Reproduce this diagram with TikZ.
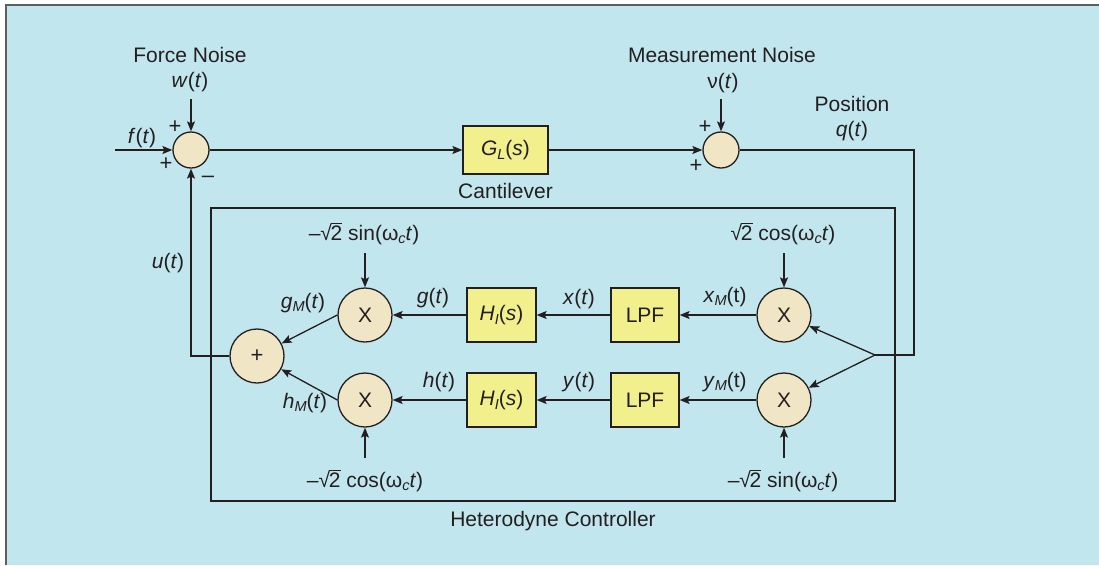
\documentclass[tikz,border=0pt]{standalone}
\usepackage{fontspec}
\setmainfont{Liberation Sans}
\usetikzlibrary{arrows.meta}
\definecolor{bg}{RGB}{194,230,238}
\definecolor{boxy}{RGB}{242,240,140}
\definecolor{circ}{RGB}{240,230,198}
\definecolor{ink}{RGB}{35,31,32}
\definecolor{frame}{RGB}{95,95,95}
\newcommand\vi[1]{\textit{#1}}
\newcommand\subs[1]{\raisebox{-0.35ex}{\fontsize{14.5}{14.5}\selectfont #1}}
\newcommand\rtwo{√\kern-0.06em\rlap{\rule[0.74em]{0.56em}{0.06em}}2}
\tikzset{
  every node/.style={font=\fontsize{21}{25}\selectfont, text=ink},
  lbl/.style={anchor=base, inner sep=0pt},
  sgn/.style={inner sep=0pt, font=\fontsize{22}{22}\selectfont},
  sumc/.style={circle, draw=ink, fill=circ, line width=1.3pt, minimum size=36pt, inner sep=0pt},
  mulc/.style={circle, draw=ink, fill=circ, line width=1.3pt, minimum size=54pt, inner sep=0pt},
  blk/.style={rectangle, draw=ink, fill=boxy, line width=1.3pt, minimum height=54pt, inner sep=0pt},
  wire/.style={draw=ink, line width=1.3pt},
  sig/.style={wire, -{Stealth[length=10pt,width=8pt,inset=2pt]}}
}
\begin{document}
\begin{tikzpicture}[x=1pt,y=-1pt]
\useasboundingbox (0,0) rectangle (1099,565);
\fill[white] (0,0) rectangle (1099,565);
\fill[bg] (6,5) rectangle (1099,565);
\draw[frame, line width=2pt] (6,565) -- (6,5) -- (1099,5);

% controller frame
\node[draw=ink, line width=1.3pt, minimum width=684pt, minimum height=293pt, inner sep=0pt] (het) at (553,354.5) {};
\node[lbl] (hetl) at (553,526) {Heterodyne Controller};

% top loop
\node[sumc] (s1) at (191,150) {};
\node[blk, minimum width=85pt, minimum height=48pt] (GL) at (505.5,150) {\vi{G}\subs{\vi{L}}(\vi{s})};
\node[sumc] (s2) at (721,150) {};
\node[lbl] (cant) at (505.5,198) {Cantilever};

\node[lbl] (fn) at (190,62) {Force Noise};
\node[lbl] (wl) at (190,87) {\vi{w}(\vi{t})};
\node[lbl] (fl) at (142,143) {\vi{f}(\vi{t})};
\node[sgn] (p1) at (175,127) {+};
\node[sgn] (p2) at (166,164) {+};
\node[sgn] (m0) at (208,179) {–};

\node[lbl] (mn) at (722,62) {Measurement Noise};
\node[lbl] (vl) at (723,88) {ν(\vi{t})};
\node[sgn] (p3) at (705,127) {+};
\node[sgn] (p4) at (696,166) {+};
\node[lbl] (pos) at (852,111) {Position};
\node[lbl] (ql) at (852,136) {\vi{q}(\vi{t})};

\coordinate (fin) at (115,150);
\coordinate (win) at (191,99);
\coordinate (vin) at (721,99);
\draw[sig] (fin) -- (s1);
\draw[sig] (win) -- (s1);
\draw[sig] (s1) -- (GL);
\draw[sig] (GL) -- (s2);
\draw[sig] (vin) -- (s2);

% controller internals
\node[mulc] (m1) at (365,315) {X};
\node[mulc] (m2) at (365,400) {X};
\node[mulc] (m3) at (784,315) {X};
\node[mulc] (m4) at (784,400) {X};
\node[mulc] (s3) at (257,356) {\fontsize{22}{22}\selectfont +};
\node[blk, minimum width=69pt] (H1) at (501.5,315) {\vi{H}\subs{\vi{I}}(\vi{s})};
\node[blk, minimum width=69pt] (H2) at (501.5,400) {\vi{H}\subs{\vi{I}}(\vi{s})};
\node[blk, minimum width=68pt] (L1) at (645,315) {LPF};
\node[blk, minimum width=68pt] (L2) at (645,400) {LPF};

\node[lbl] (c1) at (364,240) {–\rtwo\ sin(ω\subs{\vi{c}}\vi{t})};
\node[lbl] (c2) at (365,487) {–\rtwo\ cos(ω\subs{\vi{c}}\vi{t})};
\node[lbl] (c3) at (783,240) {\rtwo\ cos(ω\subs{\vi{c}}\vi{t})};
\node[lbl] (c4) at (783,487) {–\rtwo\ sin(ω\subs{\vi{c}}\vi{t})};

\node[lbl] (gml) at (303,308) {\vi{g}\subs{\vi{M}}(\vi{t})};
\node[lbl] (hml) at (305,408) {\vi{h}\subs{\vi{M}}(\vi{t})};
\node[lbl] (gl) at (433,303) {\vi{g}(\vi{t})};
\node[lbl] (hl) at (439,387) {\vi{h}(\vi{t})};
\node[lbl] (xl) at (579,304) {\vi{x}(\vi{t})};
\node[lbl] (yl) at (579,387) {\vi{y}(\vi{t})};
\node[lbl] (xml) at (725,302) {\vi{x}\subs{\vi{M}}(t)};
\node[lbl] (yml) at (725,387) {\vi{y}\subs{\vi{M}}(t)};
\node[lbl] (ul) at (168,268) {\vi{u}(\vi{t})};

\coordinate (k1) at (365,253);
\coordinate (k2) at (365,458);
\coordinate (k3) at (784,253);
\coordinate (k4) at (784,458);
\draw[sig] (k1) -- (m1);
\draw[sig] (k2) -- (m2);
\draw[sig] (k3) -- (m3);
\draw[sig] (k4) -- (m4);

\coordinate (qc) at (914,150);
\coordinate (qd) at (914,355);
\coordinate (br) at (875,355);
\draw[wire] (s2) -- (qc) -- (qd) -- (br);
\draw[sig] (br) -- (m3);
\draw[sig] (br) -- (m4);
\draw[sig] (m3) -- (L1);
\draw[sig] (m4) -- (L2);
\draw[sig] (L1) -- (H1);
\draw[sig] (L2) -- (H2);
\draw[sig] (H1) -- (m1);
\draw[sig] (H2) -- (m2);
\draw[sig] (m1.west) -- (s3);
\draw[sig] (m2.west) -- (s3);
\coordinate (uc) at (191,356);
\draw[sig] (s3.west) -- (uc) -- (s1);
\end{tikzpicture}
\end{document}
